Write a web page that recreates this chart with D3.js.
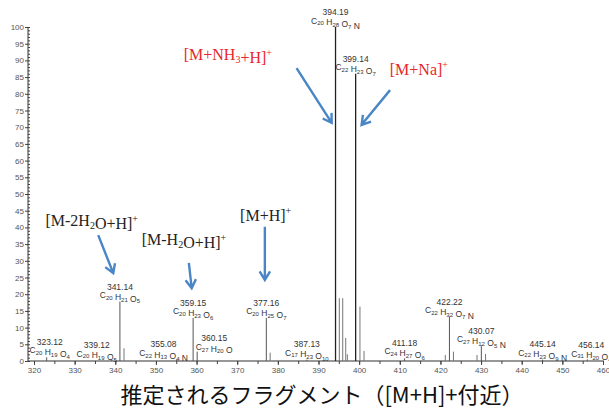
<!DOCTYPE html>
<html>
<head>
<meta charset="utf-8">
<script src="https://cdn.jsdelivr.net/npm/d3@7"></script>
<style>
  body { margin: 0; background: #fff; }
  text { font-family: "Liberation Sans", Arial, sans-serif; }
  text.ion { font-family: "Liberation Serif", "Times New Roman", serif; }
  text.caption { font-family: "Noto Sans CJK JP", sans-serif; }
</style>
</head>
<body>
<script>
const width = 609,
      height = 409;

// labelled peaks (m/z, relative intensity %, formula)
const peakMz = [323.12, 339.12, 341.14, 355.08, 359.15, 360.15, 377.16, 387.13,
                394.19, 399.14, 411.18, 422.22, 430.07, 445.14, 456.14];
const peakIntensity = [1.1, 0.4, 17.8, 0.4, 12.9, 2.8, 12.9, 0.4,
                       100, 86, 0.8, 13.3, 4.6, 0.4, 0.5];
const peakFormula = ["C20 H19 O4", "C20 H19 O5", "C20 H21 O5", "C22 H13 O4 N",
                     "C20 H23 O6", "C27 H20 O", "C20 H25 O7", "C17 H23 O10",
                     "C20 H28 O7 N", "C22 H23 O7", "C24 H27 O6", "C22 H32 O7 N",
                     "C27 H12 O5 N", "C22 H23 O9 N", "C31 H20 O4"];

// unlabelled isotope / minor peaks
const minorMz = [342.15, 378.1, 395.12, 395.96, 396.7, 397.1, 400.2, 401.2,
                 421.2, 423.2, 429.0, 431.1];
const minorIntensity = [3.8, 2.5, 18.8, 18.8, 6.9, 2.0, 16.3, 3.0,
                        1.8, 2.8, 1.8, 2.1];

const xTickValues = d3.range(320, 461, 10);
const yTickValues = d3.range(0, 101, 5);

// ion annotations: label, text position (m/z, %), arrow from -> to
const ionLabels = ["[M+NH_3+H]^+", "[M+Na]^+", "[M-2H_2O+H]^+", "[M-H_2O+H]^+", "[M+H]^+"];
const ionTextAt = [[367.7, 90], [414.7, 85.6], [334.2, 40.4], [356.9, 34.7], [377.0, 41.9]];
const ionArrowFrom = [[384.6, 87.7], [407.6, 81.1], [335.8, 37.7], [358.1, 29.4], [376.8, 40.2]];
const ionArrowTo = [[393.25, 71.3], [400.6, 70.7], [339.5, 26.3], [358.8, 21.8], [376.8, 24.3]];
const ionRed = [true, true, false, false, false];

// label placement (pixel tweaks only)
const labelDx = [3, -15, 0, -13, 0, 17, 0, 0, 0, 0, 0, 0, 0, 0, 4];
const labelFixedY = [341.7, 345, null, 344.3, null, 338.3, null, 344,
                     null, null, 342.7, null, null, 344, 345];

const svg = d3.select("body")
              .append("svg")
              .attr("width", width)
              .attr("height", height);

const x = d3.scaleLinear()
            .domain([320, 460])
            .range([34, 603]);
const y = d3.scaleLinear()
            .domain([0, 100])
            .range([361, 27]);

const axisLeftPx = 28;

// x axis
var xg = svg.append("g").attr("transform", "translate(0," + y(0) + ")");
xg.call(d3.axisBottom(x).tickValues(d3.range(319, 461, 1)).tickSize(2).tickFormat(""));
xg.call(d3.axisBottom(x).tickValues(d3.range(320, 461, 5)).tickSize(3).tickFormat(""));
var xMajor = xg.append("g").call(d3.axisBottom(x).tickValues(xTickValues).tickSize(4).tickPadding(2));
xg.selectAll(".domain").remove();
xg.append("line")
  .attr("x1", axisLeftPx).attr("x2", 604)
  .attr("stroke", "#333").attr("stroke-width", 1.2);
xg.selectAll(".tick line").attr("stroke", "#444");
xMajor.selectAll("text")
      .attr("font-size", 8)
      .attr("fill", "#555");

// y axis
var yg = svg.append("g").attr("transform", "translate(" + axisLeftPx + ",0)");
yg.call(d3.axisRight(y).tickValues(d3.range(0, 101, 1)).tickSize(2).tickFormat(""));
var yMajor = yg.append("g").call(d3.axisLeft(y).tickValues(yTickValues).tickSize(3).tickPadding(1));
yg.selectAll(".domain").remove();
yg.append("line")
  .attr("y1", y(0)).attr("y2", y(100))
  .attr("stroke", "#333").attr("stroke-width", 1);
yg.selectAll(".tick line").attr("stroke", "#444");
yMajor.selectAll("text")
      .attr("font-size", 8)
      .attr("fill", "#555");

// minor peaks
svg.append("g")
   .selectAll("line")
   .data(minorMz)
   .enter()
   .append("line")
   .attr("x1", d => x(d)).attr("x2", d => x(d))
   .attr("y1", y(0))
   .attr("y2", (d, i) => y(minorIntensity[i]))
   .attr("stroke", "#777")
   .attr("stroke-width", 1);

// labelled peaks
svg.append("g")
   .selectAll("line")
   .data(peakMz)
   .enter()
   .append("line")
   .attr("x1", d => x(d)).attr("x2", d => x(d))
   .attr("y1", y(0))
   .attr("y2", (d, i) => y(peakIntensity[i]))
   .attr("stroke", (d, i) => peakIntensity[i] > 50 ? "#222" : "#555")
   .attr("stroke-width", (d, i) => peakIntensity[i] > 50 ? 1.3 : 1);

// peak labels
function formulaText(sel, formula) {
    formula.split(" ").forEach(function(tok, k) {
        var m = tok.match(/^([A-Z][a-z]?)(\d*)$/);
        sel.append("tspan").text((k > 0 ? " " : "") + m[1]);
        if (m[2]) {
            sel.append("tspan").attr("font-size", 6).attr("dy", 1.8).text(m[2]);
            sel.append("tspan").attr("dy", -1.8).text("");
        }
    });
}

var labels = svg.append("g")
                .selectAll("g")
                .data(peakMz)
                .enter()
                .append("g")
                .attr("transform", function(d, i) {
                    var cy = labelFixedY[i] != null ? labelFixedY[i] : y(peakIntensity[i]) - 15;
                    return "translate(" + (x(d) + labelDx[i]) + "," + cy + ")";
                });
labels.append("text")
      .attr("text-anchor", "middle")
      .attr("dy", "0.35em")
      .attr("font-size", 8.5)
      .attr("fill", "#333")
      .text(d => d.toFixed(2));
labels.append("text")
      .attr("text-anchor", "middle")
      .attr("y", 9)
      .attr("dy", "0.3em")
      .attr("font-size", 8.5)
      .attr("fill", "#333")
      .each(function(d, i) { formulaText(d3.select(this), peakFormula[i]); });

// ion annotations
function ionText(sel, label) {
    var parts = label.match(/(_\d|\^\+|[^_^]+)/g);
    parts.forEach(function(p) {
        if (p[0] === "_") {
            sel.append("tspan").attr("font-size", 10).attr("dy", 3).text(p[1]);
            sel.append("tspan").attr("dy", -3).text("");
        } else if (p[0] === "^") {
            sel.append("tspan").attr("font-size", 10).attr("dy", -7).text("+");
            sel.append("tspan").attr("dy", 7).text("");
        } else {
            sel.append("tspan").text(p);
        }
    });
}

svg.append("g")
   .selectAll("text")
   .data(ionLabels)
   .enter()
   .append("text")
   .attr("class", "ion")
   .attr("x", (d, i) => x(ionTextAt[i][0]))
   .attr("y", (d, i) => y(ionTextAt[i][1]))
   .attr("text-anchor", "middle")
   .attr("font-size", 16)
   .attr("fill", (d, i) => ionRed[i] ? "#e8262b" : "#222")
   .each(function(d) { ionText(d3.select(this), d); });

var arrowColor = "#4a86c6";
svg.append("g")
   .selectAll("path")
   .data(ionLabels)
   .enter()
   .append("path")
   .attr("fill", "none")
   .attr("stroke", arrowColor)
   .attr("stroke-width", 2.4)
   .attr("stroke-linejoin", "miter")
   .attr("d", function(d, i) {
       var x0 = x(ionArrowFrom[i][0]), y0 = y(ionArrowFrom[i][1]),
           x1 = x(ionArrowTo[i][0]), y1 = y(ionArrowTo[i][1]);
       var a = Math.atan2(y1 - y0, x1 - x0), L = 10, s = 0.55;
       var ax = x1 - L * Math.cos(a - s), ay = y1 - L * Math.sin(a - s),
           bx = x1 - L * Math.cos(a + s), by = y1 - L * Math.sin(a + s);
       return "M" + x0 + "," + y0 + "L" + x1 + "," + y1 +
              "M" + ax + "," + ay + "L" + x1 + "," + y1 + "L" + bx + "," + by;
   });

// caption
svg.append("text")
   .attr("class", "caption")
   .attr("x", 322)
   .attr("y", 403)
   .attr("text-anchor", "middle")
   .attr("font-size", 22)
   .attr("fill", "#111")
   .text("推定されるフラグメント（[M+H]+付近）");
</script>
</body>
</html>
